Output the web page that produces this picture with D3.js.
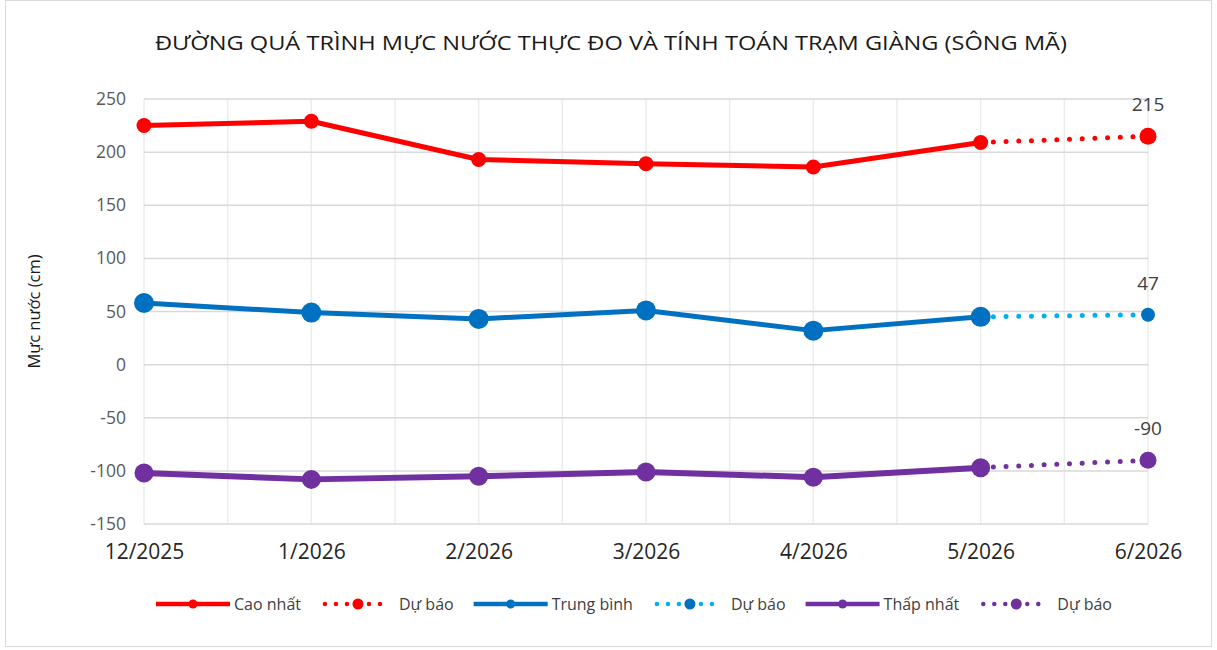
<!DOCTYPE html>
<html>
<head>
<meta charset="utf-8">
<script src="https://cdn.jsdelivr.net/npm/d3@7"></script>
<style>
  body { margin: 0; background: #fff; }
  svg { display: block; font-family: "Open Sans", "Noto Sans", sans-serif; }
</style>
</head>
<body>
<div id="chart"></div>
<script>
// du lieu doc tu bieu do
var categories = ["12/2025", "1/2026", "2/2026", "3/2026", "4/2026", "5/2026", "6/2026"];
var maxValues = [225, 229, 193, 189, 186, 209];
var meanValues = [58, 49, 43, 51, 32, 45];
var minValues = [-102, -108, -105, -101, -106, -97];
var maxForecast = 215;
var meanForecast = 47;
var minForecast = -90;
var yTicks = [-150, -100, -50, 0, 50, 100, 150, 200, 250];

var width = 1217, height = 650;
var margin = {top: 99, right: 69, bottom: 126, left: 144};

var svg = d3.select("#chart").append("svg")
    .attr("width", width)
    .attr("height", height);

// khung ngoai
svg.append("rect")
    .attr("x", 5.5).attr("y", 0.5)
    .attr("width", 1206).attr("height", 646)
    .attr("fill", "#fff")
    .attr("stroke", "#d9d9d9");

var x = d3.scalePoint()
    .domain(categories)
    .range([margin.left, width - margin.right]);

var y = d3.scaleLinear()
    .domain([-150, 250])
    .range([height - margin.bottom, margin.top]);

// luoi doc (tai moi thang va giua cac thang)
var vGrid = [];
categories.forEach(function(c, i) {
    vGrid.push(x(c));
    if (i < categories.length - 1) vGrid.push((x(c) + x(categories[i + 1])) / 2);
});
svg.append("g").selectAll("line")
    .data(vGrid).enter().append("line")
    .attr("x1", function(d) { return d; })
    .attr("x2", function(d) { return d; })
    .attr("y1", y(250)).attr("y2", y(-150))
    .attr("stroke", "#ececec")
    .attr("stroke-width", 1.5);

// luoi ngang
svg.append("g").selectAll("line")
    .data(yTicks).enter().append("line")
    .attr("x1", x(categories[0])).attr("x2", x(categories[categories.length - 1]))
    .attr("y1", function(d) { return y(d); })
    .attr("y2", function(d) { return y(d); })
    .attr("stroke", "#d9d9d9")
    .attr("stroke-width", 1.5);

// truc y
var yAxis = svg.append("g")
    .attr("transform", "translate(" + (margin.left - 18) + ",0)")
    .call(d3.axisLeft(y).tickValues(yTicks).tickSize(0).tickPadding(0)
        .tickFormat(function(d) { return String(d); }));
yAxis.select(".domain").remove();
yAxis.selectAll("text")
    .style("font-size", "17.5px")
    .style("font-family", "'Open Sans', sans-serif")
    .attr("fill", "#595959");

// truc x
var xAxis = svg.append("g")
    .attr("transform", "translate(0," + (y(-150) + 20) + ")")
    .call(d3.axisBottom(x).tickSize(0).tickPadding(0));
xAxis.select(".domain").remove();
xAxis.selectAll("text")
    .attr("dy", "0.7em")
    .style("font-size", "21px")
    .style("font-family", "'Open Sans', sans-serif")
    .attr("fill", "#262626");

// tieu de
svg.append("text")
    .attr("x", 611).attr("y", 50)
    .attr("text-anchor", "middle")
    .attr("textLength", 912)
    .attr("lengthAdjust", "spacingAndGlyphs")
    .style("font-size", "20px")
    .attr("fill", "#1a1a1a")
    .text("ĐƯỜNG QUÁ TRÌNH MỰC NƯỚC THỰC ĐO VÀ TÍNH TOÁN TRẠM GIÀNG (SÔNG MÃ)");

// nhan truc y
svg.append("text")
    .attr("transform", "translate(40," + y(50) + ") rotate(-90)")
    .attr("text-anchor", "middle")
    .style("font-size", "16.5px")
    .attr("fill", "#1a1a1a")
    .text("Mực nước (cm)");

var series = [
    {name: "Cao nhất", values: maxValues, forecast: maxForecast, color: "#ff0000", fcColor: "#ff0000", fcDot: "#ff0000", width: 5, r: 7.5, fr: 8.5},
    {name: "Trung bình", values: meanValues, forecast: meanForecast, color: "#0070c0", fcColor: "#00b0f0", fcDot: "#0070c0", width: 5, r: 10, fr: 7},
    {name: "Thấp nhất", values: minValues, forecast: minForecast, color: "#7030a0", fcColor: "#7030a0", fcDot: "#7030a0", width: 6, r: 9.5, fr: 8.5}
];

var line = d3.line()
    .x(function(d) { return x(d.cat); })
    .y(function(d) { return y(d.v); });

series.forEach(function(s) {
    var pts = s.values.map(function(v, i) { return {cat: categories[i], v: v}; });
    var last = pts[pts.length - 1];
    var fc = [last, {cat: categories[s.values.length], v: s.forecast}];

    // duong du bao (cham)
    svg.append("path")
        .datum(fc)
        .attr("d", line)
        .attr("fill", "none")
        .attr("stroke", s.fcColor)
        .attr("stroke-width", 5)
        .attr("stroke-linecap", "round")
        .attr("stroke-dasharray", "0 12.7");

    svg.append("path")
        .datum(pts)
        .attr("d", line)
        .attr("fill", "none")
        .attr("stroke", s.color)
        .attr("stroke-width", s.width)
        .attr("stroke-linejoin", "round");

    svg.append("g").selectAll("circle")
        .data(pts).enter().append("circle")
        .attr("cx", function(d) { return x(d.cat); })
        .attr("cy", function(d) { return y(d.v); })
        .attr("r", s.r)
        .attr("fill", s.color);

    svg.append("circle")
        .attr("cx", x(fc[1].cat))
        .attr("cy", y(fc[1].v))
        .attr("r", s.fr)
        .attr("fill", s.fcDot);

    // nhan gia tri du bao
    svg.append("text")
        .attr("x", x(fc[1].cat))
        .attr("y", y(fc[1].v) - 25)
        .attr("text-anchor", "middle")
        .style("font-size", "19px")
        .attr("fill", "#404040")
        .text(s.forecast);
});

// chu giai
var legendItems = [];
series.forEach(function(s) {
    legendItems.push({label: s.name, color: s.color, dotted: false, dot: s.color, w: s.width});
    legendItems.push({label: "Dự báo", color: s.fcColor, dotted: true, dot: s.fcDot, w: 5});
});

var legend = svg.append("g").attr("transform", "translate(0,604)");
var lx = 156;
legendItems.forEach(function(it) {
    var g = legend.append("g").attr("transform", "translate(" + lx + ",0)");
    if (it.dotted) {
        g.append("line")
            .attr("x1", 4).attr("x2", 70)
            .attr("stroke", it.color)
            .attr("stroke-width", 4.5)
            .attr("stroke-linecap", "round")
            .attr("stroke-dasharray", "0 11");
        g.append("circle").attr("cx", 37).attr("r", 5.5).attr("fill", it.dot);
    } else {
        g.append("line")
            .attr("x1", 0).attr("x2", 74)
            .attr("stroke", it.color)
            .attr("stroke-width", 4.5);
        g.append("circle").attr("cx", 37).attr("r", 4.5).attr("fill", it.dot);
    }
    var t = g.append("text")
        .attr("x", 78).attr("y", 5.5)
        .style("font-size", "16px")
        .attr("fill", "#404040")
        .text(it.label);
    lx += 78 + t.node().getComputedTextLength() + 20;
});
</script>
</body>
</html>
